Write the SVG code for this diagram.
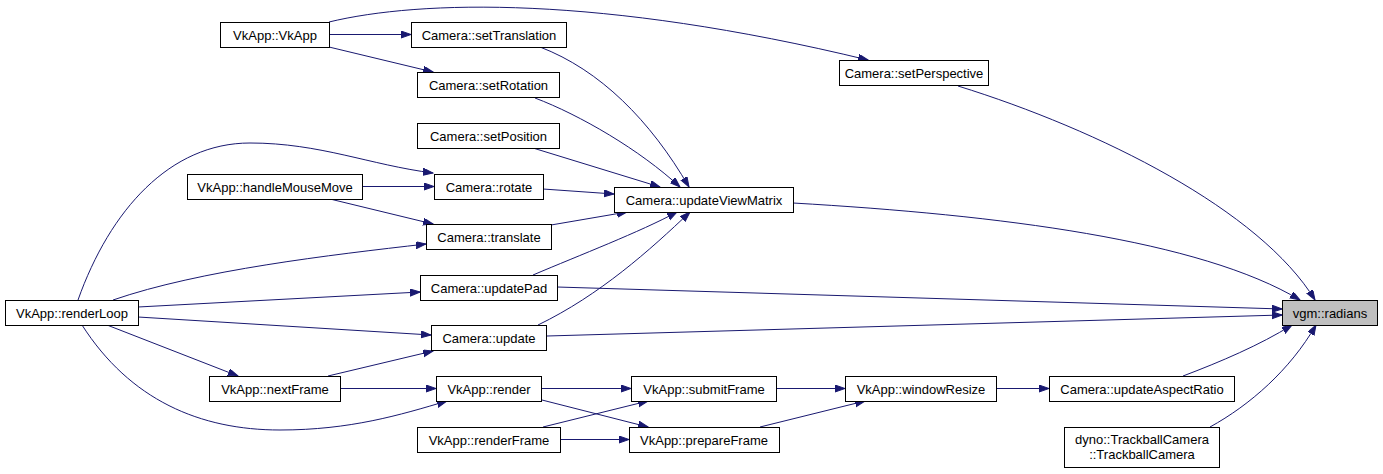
<svg xmlns="http://www.w3.org/2000/svg" width="1383" height="474" viewBox="0 0 1383 474">
<style>
.node rect{fill:#ffffff;stroke:#000000;stroke-width:1}
.node.hl rect{fill:#bfbfbf}
.node text{font-family:"Liberation Sans",Arial,sans-serif;font-size:13px;fill:#000000;text-anchor:middle}
.edges path{fill:none;stroke:#191970;stroke-width:1;marker-end:url(#arr)}
</style>
<defs>
<marker id="arr" markerUnits="userSpaceOnUse" markerWidth="11" markerHeight="8" refX="10" refY="3.5" orient="auto">
<path d="M0,0 L10,3.5 L0,7 z" fill="#191970" stroke="#191970" stroke-width="1"/>
</marker>
</defs>
<rect x="0" y="0" width="1383" height="474" fill="#ffffff"/>
<g class="edges" id="edges">
<path d="M329,34.5 L411,34.5"/>
<path d="M329,47 L433,72"/>
<path d="M329,22 C420,0 600,-5 868,60"/>
<path d="M540,47 C600,70 650,120 689,187"/>
<path d="M535,98 C580,115 640,150 680,187"/>
<path d="M533,148 L660,187"/>
<path d="M543,189 L614,194"/>
<path d="M551,225 L627,212"/>
<path d="M533,275 C580,255 640,232 677,212"/>
<path d="M538,325 C600,295 650,250 690,212"/>
<path d="M362,186.5 L434,186.5"/>
<path d="M330,199 L433,224"/>
<path d="M78,300 C110,210 170,143 250,143 C320,143 370,165 433,173"/>
<path d="M113,300 C200,270 330,255 426,244"/>
<path d="M138,307 L420,292"/>
<path d="M138,317 L431,335"/>
<path d="M107,325 L238,376"/>
<path d="M82,325 C130,400 200,430 280,430 C350,430 400,415 447,401"/>
<path d="M328,376 L433,351"/>
<path d="M340,388.5 L436,388.5"/>
<path d="M541,388.5 L631,388.5"/>
<path d="M542,400 L648,427"/>
<path d="M543,427 L648,401"/>
<path d="M560,439.5 L629,439.5"/>
<path d="M776,388.5 L845,388.5"/>
<path d="M760,427 L865,401"/>
<path d="M996,388.5 L1049,388.5"/>
<path d="M958,86 C1100,130 1260,210 1315,300"/>
<path d="M793,203 C1000,215 1200,240 1300,300"/>
<path d="M557,287 L1282,309"/>
<path d="M547,336 L1282,315"/>
<path d="M1183,376 C1220,362 1260,345 1292,325"/>
<path d="M1210,427 C1250,405 1290,370 1316,325"/>
</g>
<g class="node" id="n_vkapp"><rect x="220.5" y="22.5" width="109" height="25"/><text x="275" y="39.5">VkApp::VkApp</text></g>
<g class="node" id="n_setTranslation"><rect x="411.5" y="22.5" width="155" height="25"/><text x="489" y="39.5">Camera::setTranslation</text></g>
<g class="node" id="n_setRotation"><rect x="417.5" y="72.5" width="142" height="25"/><text x="488.5" y="89.5">Camera::setRotation</text></g>
<g class="node" id="n_setPosition"><rect x="417.5" y="123.5" width="142" height="25"/><text x="488.5" y="140.5">Camera::setPosition</text></g>
<g class="node" id="n_setPerspective"><rect x="839.5" y="60.5" width="149" height="25"/><text x="914" y="77.5">Camera::setPerspective</text></g>
<g class="node" id="n_handleMouseMove"><rect x="187.5" y="174.5" width="175" height="25"/><text x="275" y="191.5">VkApp::handleMouseMove</text></g>
<g class="node" id="n_rotate"><rect x="434.5" y="174.5" width="109" height="25"/><text x="489" y="191.5">Camera::rotate</text></g>
<g class="node" id="n_updateViewMatrix"><rect x="614.5" y="187.5" width="179" height="25"/><text x="704" y="204.5">Camera::updateViewMatrix</text></g>
<g class="node" id="n_translate"><rect x="426.5" y="224.5" width="125" height="25"/><text x="489" y="241.5">Camera::translate</text></g>
<g class="node" id="n_updatePad"><rect x="420.5" y="275.5" width="137" height="25"/><text x="489" y="292.5">Camera::updatePad</text></g>
<g class="node" id="n_renderLoop"><rect x="5.5" y="300.5" width="133" height="25"/><text x="72" y="317.5">VkApp::renderLoop</text></g>
<g class="node hl" id="n_radians"><rect x="1282.5" y="300.5" width="95" height="25"/><text x="1330" y="317.5">vgm::radians</text></g>
<g class="node" id="n_update"><rect x="431.5" y="325.5" width="115" height="25"/><text x="489" y="342.5">Camera::update</text></g>
<g class="node" id="n_nextFrame"><rect x="209.5" y="376.5" width="131" height="25"/><text x="275" y="393.5">VkApp::nextFrame</text></g>
<g class="node" id="n_render"><rect x="436.5" y="376.5" width="105" height="25"/><text x="489" y="393.5">VkApp::render</text></g>
<g class="node" id="n_submitFrame"><rect x="631.5" y="376.5" width="145" height="25"/><text x="704" y="393.5">VkApp::submitFrame</text></g>
<g class="node" id="n_windowResize"><rect x="845.5" y="376.5" width="151" height="25"/><text x="921" y="393.5">VkApp::windowResize</text></g>
<g class="node" id="n_updateAspectRatio"><rect x="1049.5" y="376.5" width="185" height="25"/><text x="1142" y="393.5">Camera::updateAspectRatio</text></g>
<g class="node" id="n_renderFrame"><rect x="417.5" y="427.5" width="143" height="25"/><text x="489" y="444.5">VkApp::renderFrame</text></g>
<g class="node" id="n_prepareFrame"><rect x="629.5" y="427.5" width="150" height="25"/><text x="704" y="444.5">VkApp::prepareFrame</text></g>
<g class="node" id="n_trackball"><rect x="1064.5" y="427.5" width="155" height="40"/><text x="1142" y="444">dyno::TrackballCamera</text><text x="1142" y="459">::TrackballCamera</text></g>
</svg>
